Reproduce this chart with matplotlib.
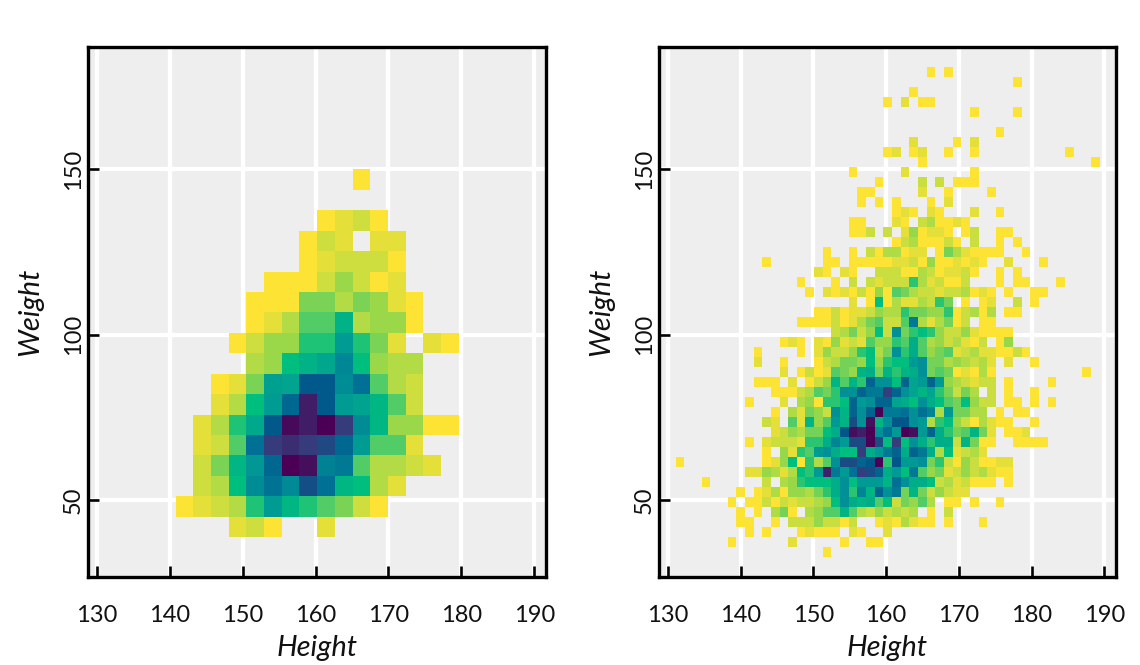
import numpy as np
import matplotlib
matplotlib.use("Agg")
import matplotlib.pyplot as plt
from matplotlib.colors import LinearSegmentedColormap, Normalize

height_range = (131.1, 189.35)
weight_range = (32.7, 180.85)
x_ticks = [130, 140, 150, 160, 170, 180, 190]
y_ticks = [50, 100, 150]

# counts per weight bin (key) and height bin (inner key)
left_counts = {
    18: {14: 1},
    16: {12: 1, 13: 5, 14: 9, 15: 1},
    15: {11: 1, 12: 9, 13: 5, 15: 5, 16: 5},
    14: {11: 1, 12: 5, 13: 9, 14: 9, 15: 9, 16: 1},
    13: {9: 1, 10: 1, 11: 1, 12: 9, 13: 17, 14: 9, 15: 1, 16: 5},
    12: {8: 1, 9: 1, 10: 1, 11: 21, 12: 21, 13: 13, 14: 21, 15: 17, 16: 5, 17: 1},
    11: {8: 1, 9: 5, 10: 13, 11: 26, 12: 26, 13: 40, 14: 13, 15: 17, 16: 17, 17: 1},
    10: {7: 1, 8: 9, 9: 17, 10: 17, 11: 31, 12: 31, 13: 50, 14: 31, 15: 21, 16: 5, 18: 5, 19: 1},
    9: {8: 13, 9: 17, 10: 34, 11: 40, 12: 45, 13: 58, 14: 34, 15: 17, 16: 13, 17: 13},
    8: {6: 1, 7: 5, 8: 21, 9: 48, 10: 46, 11: 75, 12: 75, 13: 56, 14: 67, 15: 26, 16: 13, 17: 9},
    7: {6: 5, 7: 13, 8: 34, 9: 50, 10: 70, 11: 92, 12: 75, 13: 50, 14: 47, 15: 38, 16: 26, 17: 9},
    6: {5: 5, 6: 13, 7: 31, 8: 44, 9: 75, 10: 97, 11: 92, 12: 100, 13: 84, 14: 56, 15: 38, 16: 17, 17: 17, 18: 1, 19: 1},
    5: {5: 5, 6: 9, 7: 26, 8: 67, 9: 84, 10: 88, 11: 84, 12: 80, 13: 70, 14: 50, 15: 26, 16: 26, 17: 5},
    4: {5: 9, 6: 21, 7: 38, 8: 52, 9: 70, 10: 100, 11: 96, 12: 60, 13: 63, 14: 26, 15: 13, 16: 13, 17: 9, 18: 5},
    3: {5: 9, 6: 13, 7: 34, 8: 56, 9: 66, 10: 57, 11: 78, 12: 67, 13: 38, 14: 34, 15: 13, 16: 5},
    2: {4: 1, 5: 5, 6: 9, 7: 13, 8: 31, 9: 50, 10: 38, 11: 31, 12: 26, 13: 21, 14: 9, 15: 1},
    1: {7: 5, 8: 9, 9: 1, 12: 5},
}

right_counts = {
    48: {29: 1, 31: 1},
    47: {39: 1},
    46: {27: 1},
    45: {24: 1, 26: 2, 28: 1, 29: 1},
    44: {34: 1, 39: 1},
    42: {37: 1},
    41: {27: 2, 32: 1, 34: 2},
    40: {24: 1, 25: 2, 27: 1, 28: 2, 31: 1, 34: 1, 45: 1},
    39: {28: 1, 48: 1},
    38: {20: 1, 26: 2, 34: 1},
    37: {23: 1, 28: 3, 30: 3, 32: 1, 33: 1, 34: 1},
    36: {21: 1, 22: 1, 28: 2, 31: 1, 36: 1},
    35: {21: 1, 23: 1, 25: 1, 29: 1, 31: 2},
    34: {25: 1, 26: 2, 27: 1, 29: 2, 30: 1, 34: 2, 37: 1},
    33: {20: 1, 21: 1, 25: 2, 26: 1, 28: 3, 29: 4, 30: 1, 31: 1, 32: 2, 33: 1},
    32: {20: 1, 21: 1, 22: 3, 24: 3, 26: 2, 27: 5, 28: 1, 29: 2, 30: 2, 31: 1, 33: 1, 34: 3, 37: 1, 38: 1},
    31: {25: 1, 26: 3, 27: 4, 28: 1, 29: 1, 30: 1, 31: 3, 32: 1, 34: 3, 37: 1, 39: 1},
    30: {17: 1, 20: 1, 22: 3, 23: 1, 24: 4, 25: 4, 26: 1, 27: 2, 28: 2, 30: 1, 31: 6, 32: 4, 33: 2, 34: 1, 35: 1, 36: 1, 37: 1, 40: 1},
    29: {10: 1, 17: 1, 18: 1, 20: 1, 21: 1, 22: 1, 23: 1, 24: 1, 25: 2, 26: 2, 27: 3, 28: 1, 29: 5, 30: 1, 31: 1, 32: 2, 33: 1, 34: 2, 35: 1, 38: 2, 42: 1},
    28: {16: 2, 17: 1, 19: 2, 20: 1, 23: 3, 24: 3, 25: 3, 26: 1, 27: 1, 28: 4, 29: 3, 30: 1, 31: 2, 32: 2, 33: 3, 34: 1, 37: 1, 39: 1},
    27: {14: 1, 18: 1, 20: 3, 22: 3, 23: 2, 24: 3, 25: 3, 26: 3, 27: 8, 28: 4, 29: 2, 30: 3, 31: 1, 32: 1, 33: 3, 37: 1, 39: 1, 40: 1, 44: 1},
    26: {15: 1, 17: 2, 18: 1, 19: 2, 20: 1, 21: 3, 22: 1, 23: 5, 24: 1, 25: 7, 26: 6, 27: 4, 28: 3, 29: 3, 30: 2, 31: 3, 32: 3, 33: 4, 34: 1, 35: 2, 36: 1, 38: 1, 41: 1, 42: 1},
    25: {20: 2, 22: 1, 23: 9, 24: 1, 25: 4, 26: 2, 27: 2, 28: 4, 29: 3, 30: 8, 31: 6, 33: 1, 35: 1, 36: 2, 39: 3, 41: 1},
    24: {16: 1, 17: 1, 18: 3, 19: 1, 20: 2, 21: 2, 22: 3, 23: 5, 24: 4, 25: 4, 26: 8, 27: 6, 28: 6, 29: 5, 30: 5, 31: 8, 32: 1, 33: 3, 34: 4, 35: 1, 36: 4, 38: 1, 39: 1},
    23: {14: 1, 15: 1, 16: 1, 17: 1, 18: 3, 19: 1, 20: 2, 21: 4, 22: 6, 23: 7, 24: 3, 25: 3, 26: 7, 27: 16, 28: 4, 29: 2, 30: 4, 31: 6, 32: 1, 33: 3, 35: 1, 36: 1},
    22: {18: 3, 19: 4, 20: 6, 21: 3, 22: 5, 23: 9, 24: 3, 25: 14, 26: 6, 27: 8, 28: 9, 29: 8, 30: 5, 31: 3, 32: 3, 33: 5, 34: 2, 35: 1, 36: 1, 37: 1, 38: 1},
    21: {12: 1, 13: 2, 14: 1, 16: 2, 17: 1, 18: 5, 19: 2, 20: 3, 21: 2, 22: 7, 23: 5, 24: 5, 25: 8, 26: 7, 27: 11, 28: 7, 29: 4, 30: 5, 31: 3, 32: 4, 33: 2, 34: 1, 35: 3, 37: 1, 38: 5},
    20: {9: 1, 14: 1, 16: 2, 17: 5, 18: 3, 19: 3, 20: 5, 21: 8, 22: 9, 23: 4, 24: 6, 25: 14, 26: 8, 27: 11, 28: 7, 29: 5, 30: 6, 31: 7, 32: 2, 33: 3, 34: 4, 35: 2, 36: 2, 37: 1, 38: 1, 39: 3, 40: 1},
    19: {9: 2, 12: 1, 16: 1, 17: 3, 18: 4, 19: 6, 20: 6, 21: 5, 22: 9, 23: 5, 24: 8, 25: 9, 26: 9, 27: 13, 28: 14, 29: 6, 30: 6, 31: 4, 32: 5, 33: 4, 34: 3, 35: 4, 36: 2, 38: 2, 41: 1},
    18: {12: 2, 14: 1, 15: 3, 16: 1, 17: 2, 18: 7, 19: 6, 20: 5, 21: 10, 22: 11, 23: 6, 24: 10, 25: 8, 26: 10, 27: 11, 28: 14, 29: 6, 30: 7, 31: 6, 32: 1, 33: 2, 34: 1, 35: 4, 36: 1, 47: 1},
    17: {9: 1, 10: 1, 11: 1, 13: 2, 15: 1, 16: 3, 17: 5, 18: 10, 19: 7, 20: 10, 21: 8, 22: 18, 23: 14, 24: 14, 25: 9, 26: 18, 27: 12, 28: 13, 29: 18, 30: 13, 31: 5, 32: 4, 33: 3, 34: 2, 35: 3, 36: 3, 38: 1, 43: 1},
    16: {11: 1, 12: 1, 13: 1, 14: 3, 15: 4, 16: 7, 17: 6, 18: 8, 19: 14, 20: 14, 21: 18, 22: 16, 23: 16, 24: 21, 25: 18, 26: 14, 27: 12, 28: 10, 29: 12, 30: 8, 31: 6, 32: 3, 33: 6, 34: 4, 36: 3, 38: 1, 41: 1},
    15: {8: 1, 12: 2, 14: 4, 15: 5, 16: 1, 17: 8, 18: 8, 19: 9, 20: 18, 21: 13, 22: 14, 23: 18, 24: 18, 25: 12, 26: 11, 27: 9, 28: 14, 29: 11, 30: 9, 31: 7, 32: 6, 33: 9, 34: 5, 35: 3, 36: 3, 38: 1, 39: 1, 41: 1, 43: 1},
    14: {11: 1, 13: 4, 14: 2, 15: 6, 16: 5, 17: 3, 18: 14, 19: 10, 20: 18, 21: 14, 22: 18, 23: 25, 24: 16, 25: 16, 26: 17, 27: 14, 28: 17, 29: 15, 30: 4, 31: 13, 32: 6, 33: 6, 34: 4, 35: 4, 37: 1, 39: 1, 40: 1},
    13: {10: 3, 11: 2, 13: 7, 14: 2, 15: 10, 16: 5, 17: 7, 18: 13, 19: 10, 20: 20, 21: 14, 22: 24, 23: 10, 24: 14, 25: 19, 26: 19, 27: 14, 28: 13, 29: 4, 30: 8, 31: 9, 32: 5, 33: 3, 34: 1, 35: 4, 36: 2, 37: 1, 38: 1, 41: 1},
    12: {11: 2, 12: 3, 13: 5, 14: 4, 15: 6, 16: 6, 17: 9, 18: 11, 19: 19, 20: 24, 21: 23, 22: 25, 23: 14, 24: 17, 25: 13, 26: 25, 27: 24, 28: 13, 29: 18, 30: 11, 31: 8, 32: 6, 33: 7, 34: 10, 35: 6, 36: 2, 38: 1, 39: 1, 40: 2},
    11: {8: 1, 10: 2, 11: 3, 12: 3, 13: 3, 14: 2, 15: 8, 16: 8, 17: 11, 18: 15, 19: 13, 20: 20, 21: 20, 22: 25, 23: 20, 24: 9, 25: 21, 26: 9, 27: 14, 28: 11, 29: 8, 30: 11, 31: 11, 32: 3, 33: 10, 34: 6, 35: 1, 36: 1, 39: 1, 40: 1, 41: 1, 42: 1},
    10: {10: 1, 12: 5, 13: 2, 14: 8, 15: 7, 16: 13, 17: 14, 18: 11, 19: 9, 20: 9, 21: 21, 22: 11, 23: 13, 24: 16, 25: 18, 26: 11, 27: 18, 28: 16, 29: 11, 30: 4, 31: 9, 32: 2, 33: 3, 34: 4, 35: 2},
    9: {0: 1, 10: 1, 11: 2, 12: 5, 13: 9, 14: 1, 15: 8, 16: 4, 17: 7, 18: 14, 19: 20, 20: 20, 21: 18, 22: 19, 23: 25, 24: 8, 25: 19, 26: 13, 27: 13, 28: 14, 29: 6, 30: 8, 31: 3, 32: 1, 33: 5, 34: 3, 35: 1, 36: 1, 37: 2, 38: 2},
    8: {8: 2, 9: 2, 10: 5, 11: 4, 12: 2, 13: 4, 14: 9, 15: 8, 16: 13, 17: 23, 18: 16, 19: 13, 20: 17, 21: 21, 22: 20, 23: 18, 24: 11, 25: 13, 26: 9, 27: 16, 28: 7, 29: 5, 30: 6, 31: 2, 32: 3, 33: 5, 34: 3, 35: 4, 36: 2, 37: 1, 38: 1},
    7: {3: 1, 10: 3, 12: 4, 13: 5, 14: 8, 15: 9, 16: 9, 17: 9, 18: 11, 19: 14, 20: 9, 21: 13, 22: 13, 23: 13, 24: 10, 25: 17, 26: 14, 27: 11, 28: 11, 29: 9, 30: 3, 31: 4, 32: 2, 33: 3, 34: 1, 35: 1, 36: 1, 38: 1},
    6: {7: 1, 9: 1, 10: 2, 11: 4, 12: 1, 13: 5, 14: 5, 15: 4, 16: 6, 17: 8, 18: 11, 19: 14, 20: 8, 21: 15, 22: 10, 23: 18, 24: 14, 25: 16, 26: 6, 27: 10, 28: 6, 29: 3, 30: 5, 31: 3, 32: 2, 33: 2},
    5: {6: 1, 8: 1, 9: 1, 10: 3, 11: 1, 12: 3, 13: 2, 14: 3, 15: 3, 16: 4, 17: 5, 18: 9, 19: 14, 20: 11, 21: 10, 22: 11, 23: 7, 24: 9, 25: 3, 26: 6, 27: 5, 28: 7, 29: 4, 31: 1, 32: 1, 34: 1, 37: 1},
    4: {7: 1, 9: 1, 11: 4, 12: 6, 13: 1, 15: 4, 16: 5, 17: 7, 18: 7, 19: 10, 20: 7, 21: 4, 22: 3, 23: 5, 24: 3, 25: 4, 26: 3, 27: 4, 29: 1, 31: 3},
    3: {7: 1, 8: 1, 11: 1, 13: 3, 14: 3, 15: 3, 16: 5, 17: 3, 18: 3, 19: 1, 20: 3, 23: 1, 24: 2, 25: 1, 26: 4, 27: 2, 28: 1, 29: 1, 31: 1, 35: 1},
    2: {8: 1, 10: 1, 14: 1, 15: 2, 16: 1, 17: 1, 18: 1, 20: 2, 21: 1, 24: 2},
    1: {6: 1, 13: 2, 19: 1, 22: 1, 23: 1},
    0: {17: 1},
}

plt.rcParams['font.family'] = ['Lato', 'DejaVu Sans']

cmap = LinearSegmentedColormap.from_list(
    "hcl_viridis_r",
    [(0, "#FDE333"), (1 / 6, "#96D84B"), (1 / 4, "#53CC67"), (1 / 3, "#00BE7D"),
     (1 / 2, "#009B95"), (2 / 3, "#007094"), (3 / 4, "#00588B"), (5 / 6, "#353E7C"),
     (1, "#4B0055")],
)

W, H = 1140, 665
fig = plt.figure(figsize=(W / 100, H / 100), dpi=100, facecolor="white")


def to_grid(counts, n):
    grid = np.full((n, n), np.nan)
    for row, cols in counts.items():
        for col, value in cols.items():
            grid[row, col] = value
    return grid


def panel(rect_px, counts, n, vmax):
    x0, x1, top, bottom = rect_px
    ax = fig.add_axes([x0 / W, 1 - bottom / H, (x1 - x0) / W, (bottom - top) / H])
    ax.set_facecolor("#eeeeee")
    ax.grid(True, color="white", linewidth=3.1)
    ax.set_axisbelow(True)
    xe = np.linspace(*height_range, n + 1)
    ye = np.linspace(*weight_range, n + 1)
    ax.pcolormesh(xe, ye, np.ma.masked_invalid(to_grid(counts, n)), cmap=cmap,
                  norm=Normalize(1, vmax), linewidth=0, antialiased=True, zorder=2)
    ax.set_xlim(128.8, 191.6)
    ax.set_ylim(26.8, 187.0)
    ax.set_xticks(x_ticks)
    ax.set_yticks(y_ticks)
    ax.tick_params(axis="both", direction="in", length=8, width=1.9, color="black",
                   labelsize=17, labelcolor="#111111")
    ax.tick_params(axis="x", pad=20)
    ax.tick_params(axis="y", pad=3)
    for lab in ax.get_yticklabels():
        lab.set_rotation(90)
        lab.set_verticalalignment("center")
    for s in ax.spines.values():
        s.set_linewidth(2.4)
        s.set_color("black")
        s.set_zorder(5)
    ax.set_xlabel("Height", fontsize=21, fontstyle="italic", color="#111111", va="center")
    ax.set_ylabel("Weight", fontsize=21, fontstyle="italic", color="#111111", va="center")
    ax.xaxis.set_label_coords(0.5, (bottom - 648) / (bottom - top))
    ax.yaxis.set_label_coords(-58 / (x1 - x0), 0.5)
    return ax


panel((88, 546, 47, 577), left_counts, 24, 100)
panel((659, 1116, 47, 577), right_counts, 49, 25)

fig.savefig("out.png", dpi=100)
